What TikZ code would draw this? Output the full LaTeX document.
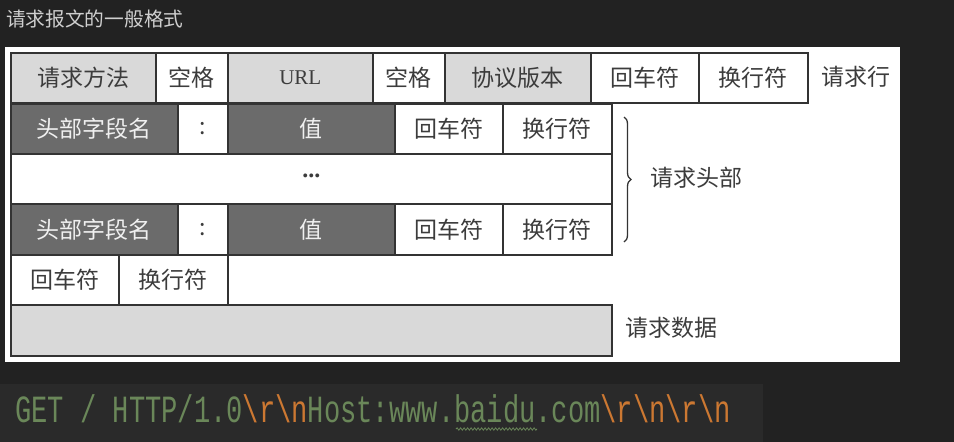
\documentclass[tikz,border=0pt]{standalone}
\usepackage{fontspec}
\setmainfont{Liberation Serif}
\newfontfamily\cjk{Noto Sans CJK SC}
\newfontfamily\codefont{Liberation Mono}
\usetikzlibrary{decorations.pathreplacing,decorations.pathmorphing}
\definecolor{bgdark}{HTML}{222222}
\definecolor{codebg}{HTML}{2A2A2A}
\definecolor{cellline}{HTML}{333333}
\definecolor{lightcell}{HTML}{D9D9D9}
\definecolor{darkcell}{HTML}{6B6B6B}
\definecolor{celltext}{HTML}{3C3C3C}
\definecolor{codegreen}{HTML}{6A8759}
\definecolor{codeorange}{HTML}{CC7832}
\definecolor{titlegray}{HTML}{CFCFCF}
\tikzset{
  cell/.style={draw=cellline, line width=1.6pt, anchor=north west, inner sep=0pt,
    minimum height=50pt, text=celltext, font=\cjk\fontsize{23}{23}\selectfont},
  wcell/.style={cell, fill=white},
  lcell/.style={cell, fill=lightcell},
  dcell/.style={cell, fill=darkcell, text=white!94!black},
  sidelabel/.style={text=celltext, font=\cjk\fontsize{23}{23}\selectfont, inner sep=0pt},
}
\begin{document}
\begin{tikzpicture}[x=1pt,y=-1pt]
\useasboundingbox (0,0) rectangle (954,442);
\fill[bgdark] (0,0) rectangle (954,442);
\fill[codebg] (0,384) rectangle (763,442);
\fill[white] (5,47) rectangle (900,362);
% title
\node[anchor=west, inner sep=0pt, text=titlegray, font=\cjk\fontsize{19.7}{19.7}\selectfont] (title) at (6,19) {请求报文的一般格式};
% row 1
\node[lcell, minimum width=145pt] (r1a) at (10,52) {请求方法};
\node[wcell, minimum width=72pt] (r1b) at (155,52) {空格};
\node[lcell, minimum width=145pt, font=\fontsize{21}{21}\selectfont] (r1c) at (227,52) {URL};
\node[wcell, minimum width=72pt] (r1d) at (372,52) {空格};
\node[lcell, minimum width=146pt] (r1e) at (444,52) {协议版本};
\node[wcell, minimum width=108pt] (r1f) at (590,52) {回车符};
\node[wcell, minimum width=109pt] (r1g) at (698,52) {换行符};
\node[sidelabel] (lblline) at (856,77) {请求行};
% row 2
\node[dcell, minimum width=167pt] (r2a) at (10,103) {头部字段名};
\node[wcell, minimum width=50pt] (r2b) at (177,103) {:};
\node[dcell, minimum width=167pt] (r2c) at (227,103) {值};
\node[wcell, minimum width=108pt] (r2d) at (394,103) {回车符};
\node[wcell, minimum width=109pt] (r2e) at (502,103) {换行符};
% row 3
\node[wcell, minimum width=601pt, font=\bfseries\fontsize{24}{24}\selectfont] (r3) at (10,153) {\raisebox{6pt}{...}};
% row 4
\node[dcell, minimum width=167pt, minimum height=51pt] (r4a) at (10,203) {头部字段名};
\node[wcell, minimum width=50pt, minimum height=51pt] (r4b) at (177,203) {:};
\node[dcell, minimum width=167pt, minimum height=51pt] (r4c) at (227,203) {值};
\node[wcell, minimum width=108pt, minimum height=51pt] (r4d) at (394,203) {回车符};
\node[wcell, minimum width=109pt, minimum height=51pt] (r4e) at (502,203) {换行符};
% row 5
\node[wcell, minimum width=108pt] (r5a) at (10,254) {回车符};
\node[wcell, minimum width=109pt] (r5b) at (118,254) {换行符};
% row 6
\node[lcell, minimum width=601pt, minimum height=51pt] (r6) at (10,304) {};
% brace and labels
\coordinate (bracetop) at (624,117);
\coordinate (bracebot) at (624,242);
\draw[cellline, line width=1.3pt, decorate, decoration={brace, amplitude=7pt}] (bracetop) -- (bracebot);
\node[sidelabel, anchor=west] (lblhead) at (650,178) {请求头部};
\node[sidelabel, anchor=west] (lbldata) at (625,328) {请求数据};
% code line
\node[anchor=base west, inner sep=0pt] (code) at (15,422) {\scalebox{1}[1.42]{\codefont\fontsize{27.1}{27.1}\selectfont
\textcolor{codegreen}{GET / HTTP/1.0}\textcolor{codeorange}{\textbackslash r\textbackslash n}\textcolor{codegreen}{Host:www.baidu.com}\textcolor{codeorange}{\textbackslash r\textbackslash n\textbackslash r\textbackslash n}}};
\draw[codegreen, line width=0.8pt, decorate, decoration={snake, amplitude=1.2pt, segment length=3.5pt}] (456,429) -- (537,429);
\end{tikzpicture}
\end{document}
